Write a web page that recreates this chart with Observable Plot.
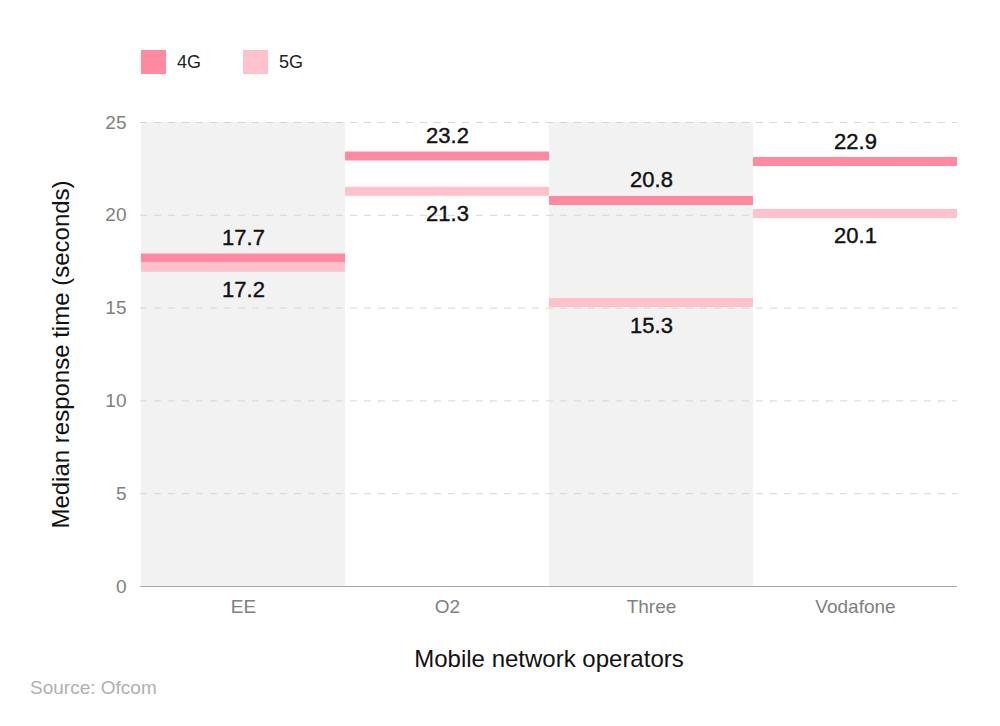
<!DOCTYPE html>
<html>
<head>
<meta charset="utf-8">
<script src="https://cdn.jsdelivr.net/npm/d3@7"></script>
<script src="https://cdn.jsdelivr.net/npm/@observablehq/plot@0.6"></script>
<style>
  html, body { margin: 0; padding: 0; background: #fff; }
  body { font-family: "Liberation Sans", Arial, Helvetica, sans-serif; }
  #wrap { position: relative; width: 1000px; height: 726px; }
  #legend { position: absolute; left: 141px; top: 50px; display: flex; align-items: center; font-size: 18px; color: #222; }
  .item { display: flex; align-items: center; margin-right: 42px; }
  .sw { width: 25px; height: 24px; margin-right: 11px; }
  #source { position: absolute; left: 30px; top: 677px; font-size: 19px; color: #b0b0b0; }
</style>
</head>
<body>
<div id="wrap">
  <div id="chart"></div>
  <div id="legend"></div>
  <div id="source"></div>
</div>
<script>
const operators = ["EE", "O2", "Three", "Vodafone"];
const series = ["4G", "5G"];
const values4G = [17.7, 23.2, 20.8, 22.9];
const values5G = [17.2, 21.3, 15.3, 20.1];
const yTicks = [0, 5, 10, 15, 20, 25];
const shadedOperators = ["EE", "Three"];
const colors = ["#ff8aa0", "#ffc1cc"];
const sourceText = "Source: Ofcom";
const xTitle = "Mobile network operators";
const yTitle = "Median response time (seconds)";

const data = [];
operators.forEach((op, i) => {
  data.push({operator: op, series: "4G", value: values4G[i]});
  data.push({operator: op, series: "5G", value: values5G[i]});
});

document.getElementById("source").textContent = sourceText;

// Legend
const legend = document.getElementById("legend");
series.forEach((s, i) => {
  const it = document.createElement("div");
  it.className = "item";
  it.innerHTML = `<div class="sw" style="background:${colors[i]}"></div><span>${s}</span>`;
  legend.appendChild(it);
});

const chart = Plot.plot({
  width: 1000,
  height: 726,
  marginLeft: 140,
  marginRight: 43,
  marginTop: 122,
  marginBottom: 140,
  style: {fontFamily: "'Liberation Sans', Arial, Helvetica, sans-serif", background: "transparent"},
  x: {domain: operators, padding: 0, label: null},
  y: {domain: [0, 25], label: null},
  color: {domain: series, range: colors},
  marks: [
    Plot.barY(shadedOperators, {x: d => d, y1: 0, y2: 25, fill: "#f2f2f2"}),
    Plot.ruleY(yTicks.filter(d => d > 0), {stroke: "#d6d6d6", strokeDasharray: "7,7", strokeWidth: 1}),
    Plot.ruleY([0], {stroke: "#a8a8a8", strokeWidth: 1.2}),
    Plot.tickY(data, {x: "operator", y: "value", stroke: "series", strokeWidth: 9}),
    Plot.text(data.filter(d => d.series === "4G"), {x: "operator", y: "value", text: d => d.value.toFixed(1), dy: -20, fontSize: 22, fontWeight: 500, fill: "#111", stroke: "#111", strokeWidth: 0.4}),
    Plot.text(data.filter(d => d.series === "5G"), {x: "operator", y: "value", text: d => d.value.toFixed(1), dy: 23, fontSize: 22, fontWeight: 500, fill: "#111", stroke: "#111", strokeWidth: 0.4}),
    Plot.axisY({ticks: yTicks, tickSize: 0, tickPadding: 14, fontSize: 19, color: "#808080", label: null}),
    Plot.axisX({tickSize: 0, tickPadding: 13, fontSize: 19, color: "#808080", label: null}),
    Plot.text([xTitle], {frameAnchor: "bottom", lineAnchor: "middle", dy: 73, fontSize: 24, fill: "#111"}),
    Plot.text([yTitle], {frameAnchor: "left", textAnchor: "middle", lineAnchor: "middle", dx: -79, rotate: -90, fontSize: 24, fill: "#111"})
  ]
});
document.getElementById("chart").appendChild(chart);
</script>
</body>
</html>
